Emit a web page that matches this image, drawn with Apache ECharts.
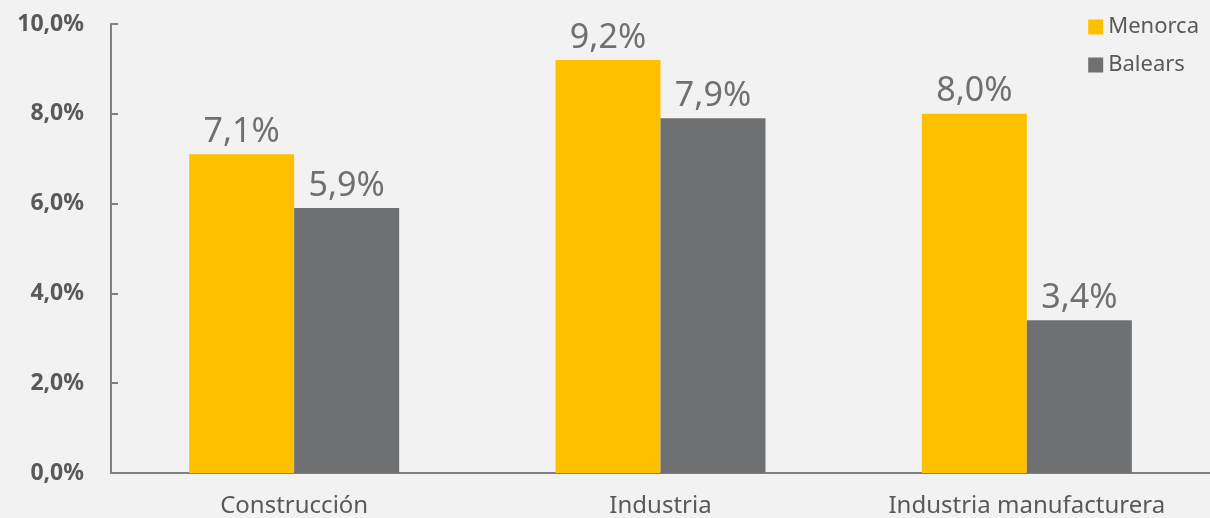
<!DOCTYPE html>
<html><head><meta charset="utf-8">
<script src="https://cdn.jsdelivr.net/npm/echarts@6/dist/echarts.min.js"></script>
<style>html,body{margin:0;padding:0;background:#f2f2f2}#c{width:1210px;height:518px}</style>
</head><body><div id="c"></div>
<script>
const categories = ['Construcción', 'Industria', 'Industria manufacturera'];
const menorca = [7.1, 9.2, 8.0];
const balears = [5.9, 7.9, 3.4];
const yTicks = [0, 2, 4, 6, 8, 10];

const fmt = v => v.toFixed(1).replace('.', ',') + '%';
const font = '"Noto Sans", "Open Sans", sans-serif';
const chart = echarts.init(document.getElementById('c'));
const lbl = {
  show: true, position: 'top', distance: 5, color: '#707070',
  fontSize: 34, fontFamily: font,
  formatter: p => fmt(p.value)
};
chart.setOption({
  backgroundColor: '#f2f2f2',
  animation: false,
  grid: { left: 111, right: 0, top: 24, bottom: 45 },
  legend: {
    orient: 'vertical', right: 6, top: 11, itemGap: 16,
    itemWidth: 15, itemHeight: 15, icon: 'rect',
    textStyle: { color: '#595959', fontSize: 22, fontFamily: font },
    data: ['Menorca', 'Balears']
  },
  xAxis: {
    type: 'category', data: categories,
    axisLine: { lineStyle: { color: '#808080', width: 2 } },
    axisTick: { show: false },
    axisLabel: { color: '#595959', fontSize: 24, fontFamily: font, margin: 21 }
  },
  yAxis: {
    type: 'value', min: yTicks[0], max: yTicks[yTicks.length - 1], interval: 2,
    axisLine: { show: true, lineStyle: { color: '#808080', width: 2 } },
    axisTick: { show: true, inside: true, length: 7, lineStyle: { color: '#808080', width: 2 } },
    splitLine: { show: false },
    axisLabel: { color: '#595959', fontSize: 23, fontWeight: 'bold', fontFamily: font, margin: 27, formatter: v => fmt(v) }
  },
  series: [
    { name: 'Menorca', type: 'bar', data: menorca, barWidth: 105, barGap: '0%',
      itemStyle: { color: '#FFC000' }, label: lbl },
    { name: 'Balears', type: 'bar', data: balears, barWidth: 105, barGap: '0%',
      itemStyle: { color: '#6F7072' }, label: lbl }
  ]
});
</script></body></html>
